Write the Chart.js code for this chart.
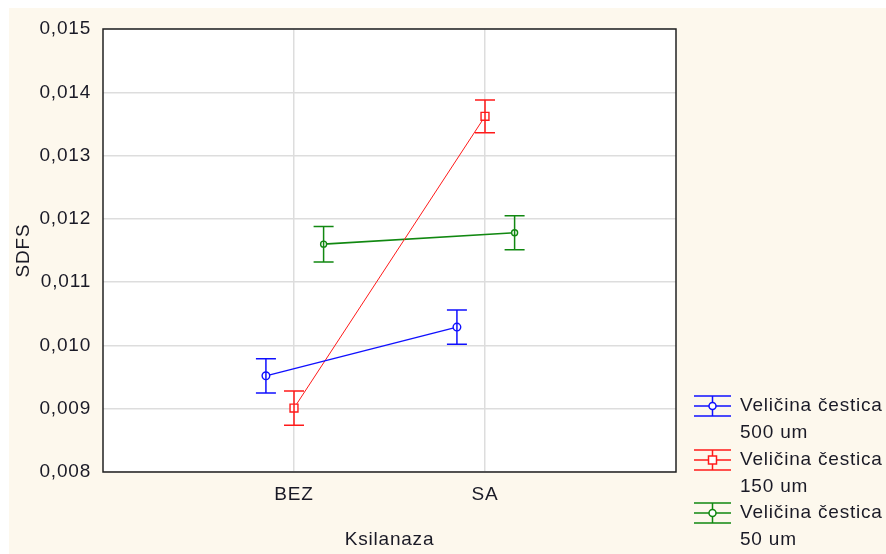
<!DOCTYPE html>
<html>
<head>
<meta charset="utf-8">
<script src="https://cdn.jsdelivr.net/npm/chart.js@4/dist/chart.umd.min.js"></script>
<style>
  html, body { margin: 0; padding: 0; background: #ffffff; }
  #wrap { position: relative; width: 886px; height: 554px; }
  canvas { display: block; }
</style>
</head>
<body>
<div id="wrap"><canvas id="c" width="886" height="554"></canvas></div>
<script>
// ---- data ----
const categories = ['BEZ', 'SA'];
const seriesNames = [['Veličina čestica', '500 um'], ['Veličina čestica', '150 um'], ['Veličina čestica', '50 um']];
const mean500 = [0.00952, 0.01029];
const err500  = [0.00027, 0.00027];
const mean150 = [0.00901, 0.01362];
const err150  = [0.00027, 0.00026];
const mean50  = [0.01160, 0.01178];
const err50   = [0.00028, 0.00027];
const yTickValues = [0.008, 0.009, 0.010, 0.011, 0.012, 0.013, 0.014, 0.015];
const xTitle = 'Ksilanaza';
const yTitle = 'SDFS';

// ---- styling (not data) ----
const colors = ['#1010ff', '#ff1a1a', '#118811'];
const offsets = [-0.147, 0, 0.155];
const pointStyles = ['circle', 'rect', 'circle'];
const pointRadii = [3.8, 5.6, 3];
const lineWidths = [1.4, 1.0, 1.6];
const means = [mean500, mean150, mean50];
const errs = [err500, err150, err50];
const FONT = '"Liberation Sans", Arial, sans-serif';
const FS = 19;
const SPACING = '0.8px';
const TEXT = '#1a1a26';

const datasets = means.map((m, s) => ({
  label: seriesNames[s].join(' '),
  data: m.map((v, i) => ({ x: i + 1 + offsets[s], y: v })),
  errs: errs[s],
  borderColor: colors[s],
  backgroundColor: '#ffffff',
  borderWidth: lineWidths[s],
  pointStyle: pointStyles[s],
  pointRadius: pointRadii[s],
  pointBorderWidth: 1.4,
  pointBorderColor: colors[s],
  pointBackgroundColor: '#ffffff',
  tension: 0,
  clip: false
}));

const bgPlugin = {
  id: 'bg',
  beforeDraw(chart) {
    const ctx = chart.ctx;
    ctx.letterSpacing = SPACING;
    ctx.save();
    ctx.fillStyle = '#ffffff';
    ctx.fillRect(0, 0, chart.width, chart.height);
    ctx.fillStyle = '#fdf8ed';
    ctx.fillRect(9, 8, chart.width - 9, chart.height - 8);
    const a = chart.chartArea;
    ctx.fillStyle = '#ffffff';
    ctx.fillRect(a.left, a.top, a.right - a.left, a.bottom - a.top);
    ctx.restore();
  }
};

const errPlugin = {
  id: 'errbars',
  afterDatasetsDraw(chart) {
    const ctx = chart.ctx;
    const ys = chart.scales.y;
    ctx.save();
    chart.data.datasets.forEach((ds, s) => {
      const meta = chart.getDatasetMeta(s);
      meta.data.forEach((pt, i) => {
        const v = ds.data[i].y, e = ds.errs[i];
        const yt = ys.getPixelForValue(v + e), yb = ys.getPixelForValue(v - e);
        const x = pt.x;
        ctx.strokeStyle = ds.borderColor;
        ctx.lineWidth = 1.5;
        ctx.beginPath();
        ctx.moveTo(x, yt); ctx.lineTo(x, yb);
        ctx.moveTo(x - 10, yt); ctx.lineTo(x + 10, yt);
        ctx.moveTo(x - 10, yb); ctx.lineTo(x + 10, yb);
        ctx.stroke();
      });
    });
    const a = chart.chartArea;
    ctx.strokeStyle = '#222222';
    ctx.lineWidth = 1.5;
    ctx.strokeRect(a.left, a.top, a.right - a.left, a.bottom - a.top);
    ctx.restore();
  }
};

const legendPlugin = {
  id: 'customLegend',
  afterDraw(chart) {
    const ctx = chart.ctx;
    ctx.save();
    ctx.letterSpacing = SPACING;
    const x0 = 694, x1 = 731, xc = 712.5, tx = 740;
    const centers = [406, 460, 513];
    chart.data.datasets.forEach((ds, s) => {
      const cy = centers[s];
      ctx.strokeStyle = colors[s];
      ctx.lineWidth = 1.5;
      ctx.beginPath();
      ctx.moveTo(x0, cy - 10); ctx.lineTo(x1, cy - 10);
      ctx.moveTo(x0, cy); ctx.lineTo(x1, cy);
      ctx.moveTo(x0, cy + 10); ctx.lineTo(x1, cy + 10);
      ctx.moveTo(xc, cy - 10); ctx.lineTo(xc, cy + 10);
      ctx.stroke();
      ctx.fillStyle = '#ffffff';
      if (pointStyles[s] === 'rect') {
        ctx.fillRect(xc - 4, cy - 4, 8, 8);
        ctx.strokeRect(xc - 4, cy - 4, 8, 8);
      } else {
        ctx.beginPath(); ctx.arc(xc, cy, 3.5, 0, Math.PI * 2); ctx.fill(); ctx.stroke();
      }
      ctx.fillStyle = TEXT;
      ctx.font = FS + 'px ' + FONT;
      ctx.textBaseline = 'middle';
      ctx.textAlign = 'left';
      ctx.fillText(seriesNames[s][0], tx, cy);
      ctx.fillText(seriesNames[s][1], tx, cy + 27);
    });
    ctx.restore();
  }
};

new Chart(document.getElementById('c'), {
  type: 'line',
  data: { datasets },
  plugins: [bgPlugin, errPlugin, legendPlugin],
  options: {
    responsive: false,
    animation: false,
    devicePixelRatio: 1,
    layout: { padding: { left: 0, top: 29, right: 210, bottom: 0 } },
    plugins: { legend: { display: false }, tooltip: { enabled: false } },
    scales: {
      x: {
        type: 'linear', min: 0, max: 3,
        afterBuildTicks(scale) { scale.ticks = categories.map((c, i) => ({ value: i + 1 })); },
        afterFit(scale) { scale.height = 82; },
        ticks: {
          callback: (v) => categories[Math.round(v) - 1] || '',
          color: TEXT, font: { family: FONT, size: FS }, padding: 11
        },
        grid: { color: '#dddddd', lineWidth: 1.5, drawTicks: false },
        border: { display: false },
        title: { display: true, text: xTitle, color: TEXT, font: { family: FONT, size: FS }, padding: { top: 0, bottom: 3 } }
      },
      y: {
        min: 0.008, max: 0.015,
        afterBuildTicks(scale) { scale.ticks = yTickValues.map(v => ({ value: v })); },
        afterFit(scale) { scale.width = 103; },
        ticks: {
          callback: (v) => v.toFixed(3).replace('.', ','),
          color: TEXT, font: { family: FONT, size: FS }, padding: 12
        },
        grid: { color: '#dddddd', lineWidth: 1.5, drawTicks: false },
        border: { display: false },
        title: { display: true, text: yTitle, color: TEXT, font: { family: FONT, size: FS }, padding: { top: 12, bottom: 12 } }
      }
    }
  }
});
</script>
</body>
</html>
